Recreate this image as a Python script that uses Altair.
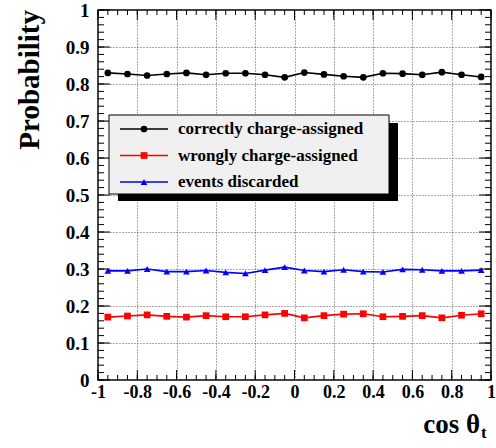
import altair as alt
import numpy as np
import pandas as pd

# ---- data ----
cos_theta = [-0.95, -0.85, -0.75, -0.65, -0.55, -0.45, -0.35, -0.25, -0.15, -0.05,
             0.05, 0.15, 0.25, 0.35, 0.45, 0.55, 0.65, 0.75, 0.85, 0.95]
correct = [0.830, 0.827, 0.823, 0.827, 0.830, 0.825, 0.829, 0.829, 0.825, 0.818,
           0.831, 0.826, 0.821, 0.818, 0.829, 0.828, 0.825, 0.832, 0.825, 0.819]
wrong = [0.170, 0.173, 0.176, 0.172, 0.170, 0.174, 0.171, 0.171, 0.176, 0.180,
         0.168, 0.174, 0.178, 0.179, 0.171, 0.172, 0.174, 0.168, 0.175, 0.179]
discarded = [0.295, 0.295, 0.300, 0.293, 0.293, 0.296, 0.291, 0.288, 0.297, 0.305,
             0.296, 0.293, 0.298, 0.293, 0.292, 0.299, 0.298, 0.295, 0.295, 0.297]

series_names = ["correctly charge-assigned", "wrongly charge-assigned", "events discarded"]
series_colors = ["#000000", "#ff0000", "#0000ff"]
series_shapes = ["circle", "square", "triangle-up"]

x_major = [-1, -0.8, -0.6, -0.4, -0.2, 0, 0.2, 0.4, 0.6, 0.8, 1]
y_major = [0, 0.1, 0.2, 0.3, 0.4, 0.5, 0.6, 0.7, 0.8, 0.9, 1]
x_minor = [round(v, 2) for v in np.arange(-1, 1.0001, 0.05)]
y_minor = [round(v, 2) for v in np.arange(0, 1.0001, 0.02)]

W, H = 393, 370
FONT = "Liberation Serif"

df = pd.concat([
    pd.DataFrame({"x": cos_theta, "p": vals, "series": name})
    for name, vals in zip(series_names, [correct, wrong, discarded])
])

xs = alt.Scale(domain=[-1, 1], nice=False, zero=False)
ys = alt.Scale(domain=[0, 1], nice=False, zero=False)
color = alt.Color("series:N", scale=alt.Scale(domain=series_names, range=series_colors), legend=None)
shape = alt.Shape("series:N", scale=alt.Scale(domain=series_names, range=series_shapes), legend=None)

label_expr = "replace(format(datum.value, '~g'), '\u2212', '-')"

x_axis = alt.Axis(values=x_major, labelExpr=label_expr, ticks=False, domain=False,
                  grid=True, gridDash=[1, 2], gridColor="#555555", gridWidth=1,
                  labelFont=FONT, labelFontWeight="bold", labelFontSize=18,
                  labelColor="black", labelPadding=3, labelFlush=False, title=None)
y_axis = alt.Axis(values=y_major, labelExpr=label_expr, ticks=False, domain=False,
                  grid=True, gridDash=[1, 2], gridColor="#555555", gridWidth=1,
                  labelFont=FONT, labelFontWeight="bold", labelFontSize=19,
                  labelColor="black", labelPadding=9, labelFlush=False, title=None)

base = alt.Chart(df).encode(
    x=alt.X("x:Q", scale=xs, axis=x_axis),
    y=alt.Y("p:Q", scale=ys, axis=y_axis),
)
lines = base.mark_line(strokeWidth=1.6).encode(color=color, detail="series:N")
points = base.mark_point(filled=True, size=45, opacity=1).encode(color=color, shape=shape)

layers = []

# ticks (inside frame, all four sides)
def yticks(vals, length):
    d = pd.DataFrame({"v": vals})
    left = alt.Chart(d).mark_rule(color="black", strokeWidth=1).encode(
        y=alt.Y("v:Q", scale=ys, axis=y_axis), x=alt.value(0), x2=alt.value(length))
    right = alt.Chart(d).mark_rule(color="black", strokeWidth=1).encode(
        y=alt.Y("v:Q", scale=ys, axis=y_axis), x=alt.value(W - length), x2=alt.value(W))
    return [left, right]

def xticks(vals, length):
    d = pd.DataFrame({"v": vals})
    bottom = alt.Chart(d).mark_rule(color="black", strokeWidth=1).encode(
        x=alt.X("v:Q", scale=xs, axis=x_axis), y=alt.value(H - length), y2=alt.value(H))
    top = alt.Chart(d).mark_rule(color="black", strokeWidth=1).encode(
        x=alt.X("v:Q", scale=xs, axis=x_axis), y=alt.value(0), y2=alt.value(length))
    return [bottom, top]

layers += yticks(y_minor, 6) + yticks(y_major, 12)
layers += xticks(x_minor, 5) + xticks(x_major, 10)

one = pd.DataFrame({"k": [0]})

# legend box with shadow
shadow = alt.Chart(one).mark_rect(color="black").encode(
    x=alt.value(20), x2=alt.value(300), y=alt.value(113), y2=alt.value(191))
box = alt.Chart(one).mark_rect(fill="#f0f0f0", stroke="black", strokeWidth=1).encode(
    x=alt.value(11), x2=alt.value(291), y=alt.value(105), y2=alt.value(184))

legend_layers = [shadow, box]
legend_y = [119, 145.5, 172]
for name, col, shp, ly in zip(series_names, series_colors, series_shapes, legend_y):
    d = pd.DataFrame({"label": [name]})
    legend_layers.append(alt.Chart(d).mark_rule(color=col, strokeWidth=1.6).encode(
        x=alt.value(22), x2=alt.value(70), y=alt.value(ly)))
    legend_layers.append(alt.Chart(d).mark_point(filled=True, size=45, color=col, shape=shp, opacity=1).encode(
        x=alt.value(46), y=alt.value(ly)))
    legend_layers.append(alt.Chart(d).mark_text(align="left", baseline="middle", font=FONT,
                                                fontWeight="bold", fontSize=17, color="black").encode(
        x=alt.value(80), y=alt.value(ly), text="label:N"))

# axis titles
ytitle = alt.Chart(pd.DataFrame({"t": ["Probability"]})).mark_text(
    angle=270, align="right", baseline="middle", font=FONT, fontWeight="bold",
    fontSize=29, color="black").encode(x=alt.value(-68), y=alt.value(0), text="t:N")
xtitle = alt.Chart(pd.DataFrame({"t": ["cos θ"]})).mark_text(
    align="right", baseline="alphabetic", font=FONT, fontWeight="bold",
    fontSize=27, color="black").encode(x=alt.value(382), y=alt.value(423), text="t:N")
xsub = alt.Chart(pd.DataFrame({"t": ["t"]})).mark_text(
    align="left", baseline="alphabetic", font=FONT, fontWeight="bold",
    fontSize=17, color="black").encode(x=alt.value(383), y=alt.value(428), text="t:N")

chart = alt.layer(
    lines, points, *layers, *legend_layers, ytitle, xtitle, xsub
).properties(
    width=W, height=H,
    autosize=alt.AutoSizeParams(type="none"),
    padding={"left": 98, "top": 10, "right": 5, "bottom": 68},
    background="white",
).configure_view(stroke="black", strokeWidth=1.5)

chart.save("out.html", embed_options={"renderer": "svg", "actions": False})
